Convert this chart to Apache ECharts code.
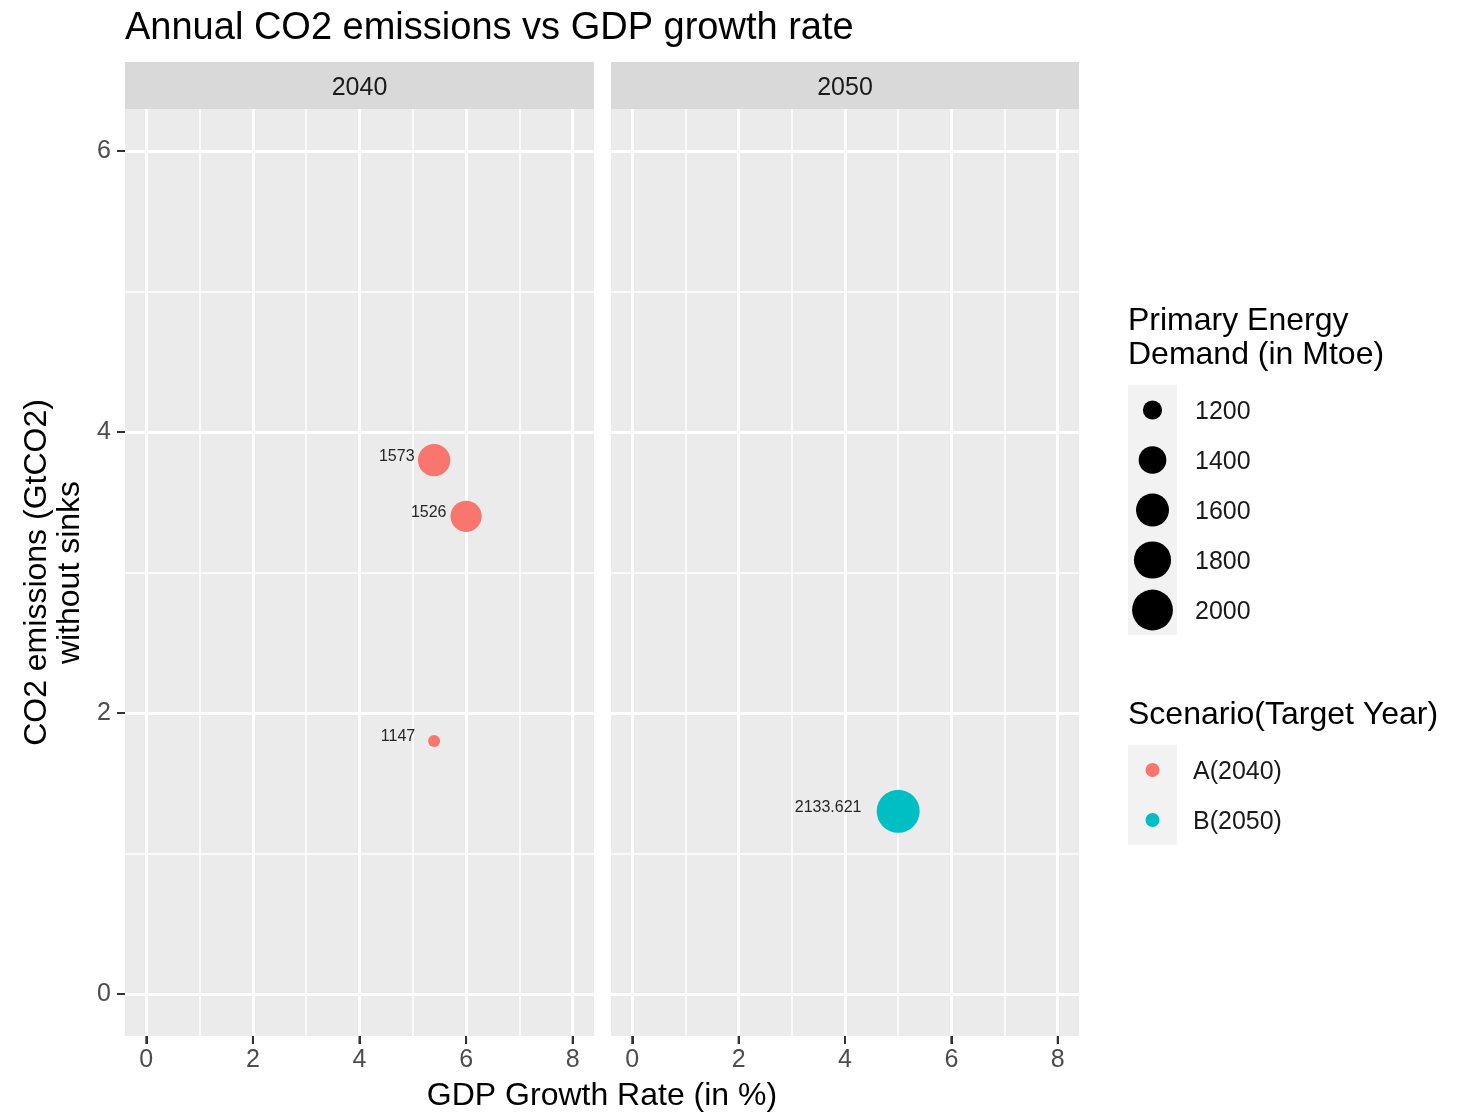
<!DOCTYPE html>
<html>
<head>
<meta charset="utf-8">
<script src="https://cdn.jsdelivr.net/npm/echarts@6/dist/echarts.min.js"></script>
<style>
  html, body { margin: 0; padding: 0; background: #ffffff; }
  #chart { width: 1473px; height: 1114px; }
</style>
</head>
<body>
<div id="chart"></div>
<script>
// ---- data ----
const facetYears = ['2040', '2050'];
const scenarioNames = ['A(2040)', 'B(2050)'];
const scenarioColors = ['#F8766D', '#00BFC4'];

// Scenario A, shown in the 2040 facet
const gdpA = [5.4, 6.0, 5.4];
const co2A = [3.8, 3.4, 1.8];
const energyA = [1573, 1526, 1147];

// Scenario B, shown in the 2050 facet
const gdpB = [5.0];
const co2B = [1.3];
const energyB = [2133.621];

const xTicks = [0, 2, 4, 6, 8];
const xMinor = [1, 3, 5, 7];
const yTicks = [0, 2, 4, 6];
const yMinor = [1, 3, 5];
const sizeBreaks = [1200, 1400, 1600, 1800, 2000];

// ---- layout / style ----
const FONT = '"Liberation Sans", Arial, Helvetica, sans-serif';
const panels = [{ left: 125, width: 469 }, { left: 611, width: 468 }];
const PANEL_TOP = 109, PANEL_H = 927;
const STRIP_TOP = 62, STRIP_H = 47;
const X_MIN = -0.4, X_MAX = 8.4, Y_MIN = -0.3, Y_MAX = 6.3;
const TICK_LEN = 8;

// area-style size scale over the energy range
const allEnergy = energyA.concat(energyB);
const eMin = Math.min(...allEnergy), eMax = Math.max(...allEnergy);
function sizeOf(v) {
  const t = Math.max(0, (v - eMin) / (eMax - eMin));
  return 12 + 31 * Math.sqrt(t);
}

function rows(xs, ys, es) {
  return xs.map((x, i) => [x, ys[i], es[i]]);
}

const grids = panels.map(p => ({
  left: p.left, top: PANEL_TOP, width: p.width, height: PANEL_H,
  show: true, backgroundColor: '#EBEBEB', borderWidth: 0, containLabel: false
}));

// per panel: a minor x axis (thin grid lines only) followed by the major one
// (labels, thick grid lines); y axes: major on the left, minor on the right
const xAxes = [], yAxes = [];
panels.forEach((p, i) => {
  xAxes.push({
    gridIndex: i, type: 'value', min: X_MIN, max: X_MAX, position: 'top',
    axisLine: { show: false, onZero: false },
    axisTick: { show: false, customValues: xMinor },
    axisLabel: { show: false, customValues: xMinor },
    splitLine: { show: true, lineStyle: { color: '#FFFFFF', width: 1.5 } }
  });
  xAxes.push({
    gridIndex: i, type: 'value', min: X_MIN, max: X_MAX, position: 'bottom',
    axisLine: { show: false, onZero: false },
    axisTick: { show: true, length: TICK_LEN, customValues: xTicks, lineStyle: { color: '#333333', width: 2 } },
    axisLabel: { show: true, customValues: xTicks, color: '#4D4D4D', fontSize: 25, fontFamily: FONT, margin: 12 },
    splitLine: { show: true, lineStyle: { color: '#FFFFFF', width: 3 } }
  });
  yAxes.push({
    gridIndex: i, type: 'value', min: Y_MIN, max: Y_MAX, position: 'left',
    axisLine: { show: false, onZero: false },
    axisTick: { show: i === 0, length: TICK_LEN, customValues: yTicks, lineStyle: { color: '#333333', width: 2 } },
    axisLabel: { show: i === 0, customValues: yTicks, color: '#4D4D4D', fontSize: 25, fontFamily: FONT, margin: 14 },
    splitLine: { show: true, lineStyle: { color: '#FFFFFF', width: 3 } }
  });
  yAxes.push({
    gridIndex: i, type: 'value', min: Y_MIN, max: Y_MAX, position: 'right',
    axisLine: { show: false, onZero: false },
    axisTick: { show: false, customValues: yMinor },
    axisLabel: { show: false, customValues: yMinor },
    splitLine: { show: true, lineStyle: { color: '#FFFFFF', width: 1.5 } }
  });
});

// value labels sit left of each point, pushed out by a share of their own width
const pointLabel = {
  show: true,
  position: 'inside',
  formatter: p => String(p.value[2]),
  color: '#262626',
  fontSize: 16,
  fontFamily: FONT
};
const pointLabelLayout = p => ({
  x: p.rect.x + p.rect.width / 2 - 0.55 * p.labelRect.width,
  y: p.rect.y + p.rect.height / 2 - 4,
  align: 'right',
  verticalAlign: 'middle'
});

const series = [
  {
    name: scenarioNames[0], type: 'scatter', xAxisIndex: 1, yAxisIndex: 0,
    data: rows(gdpA, co2A, energyA),
    symbol: 'circle', symbolSize: v => sizeOf(v[2]),
    itemStyle: { color: scenarioColors[0], opacity: 1 },
    label: pointLabel, labelLayout: pointLabelLayout, z: 5
  },
  {
    name: scenarioNames[1], type: 'scatter', xAxisIndex: 3, yAxisIndex: 2,
    data: rows(gdpB, co2B, energyB),
    symbol: 'circle', symbolSize: v => sizeOf(v[2]),
    itemStyle: { color: scenarioColors[1], opacity: 1 },
    label: pointLabel, labelLayout: pointLabelLayout, z: 5
  }
];

// x tick marks below each panel, placed through the panel's own scales
panels.forEach((p, i) => {
  series.push({
    type: 'custom', xAxisIndex: 2 * i + 1, yAxisIndex: 2 * i,
    data: xTicks.map(v => [v, Y_MIN]),
    silent: true, clip: false, z: 3,
    renderItem: (params, api) => {
      const pt = api.coord([api.value(0), api.value(1)]);
      return {
        type: 'line',
        shape: { x1: pt[0], y1: pt[1], x2: pt[0], y2: pt[1] + TICK_LEN },
        style: { stroke: '#333333', lineWidth: 2 }
      };
    }
  });
});

// ---- decorations: facet strips, axis titles, legends ----
const graphic = [];
panels.forEach((p, i) => {
  graphic.push({
    type: 'rect', shape: { x: p.left, y: STRIP_TOP, width: p.width, height: STRIP_H },
    style: { fill: '#D9D9D9' }, silent: true
  });
  graphic.push({
    type: 'text', x: p.left + p.width / 2, y: STRIP_TOP + STRIP_H / 2 + 3,
    style: { text: facetYears[i], fill: '#1A1A1A', font: '25px ' + FONT, textAlign: 'center', textVerticalAlign: 'middle' },
    silent: true
  });
});

graphic.push({
  type: 'text', x: (panels[0].left + panels[1].left + panels[1].width) / 2, y: 1096,
  style: { text: 'GDP Growth Rate (in %)', fill: '#000000', font: '32px ' + FONT, textAlign: 'center', textVerticalAlign: 'middle' },
  silent: true
});
graphic.push({
  type: 'text', x: 54, y: PANEL_TOP + PANEL_H / 2, rotation: Math.PI / 2,
  style: { text: 'CO2 emissions (GtCO2)\nwithout sinks', fill: '#000000', font: '32px ' + FONT,
           lineHeight: 33, textAlign: 'center', textVerticalAlign: 'middle' },
  silent: true
});

// size legend
const LEG_X = 1128, KEY_W = 49, KEY_H = 50;
graphic.push({
  type: 'text', x: LEG_X, y: 338,
  style: { text: 'Primary Energy\nDemand (in Mtoe)', fill: '#000000', font: '32px ' + FONT,
           lineHeight: 34, textAlign: 'left', textVerticalAlign: 'middle' },
  silent: true
});
const SIZE_KEY_TOP = 385;
graphic.push({
  type: 'rect', shape: { x: LEG_X, y: SIZE_KEY_TOP, width: KEY_W, height: KEY_H * sizeBreaks.length },
  style: { fill: '#F2F2F2' }, silent: true
});
sizeBreaks.forEach((v, i) => {
  const cy = SIZE_KEY_TOP + KEY_H * i + KEY_H / 2;
  graphic.push({
    type: 'circle', shape: { cx: LEG_X + KEY_W / 2, cy: cy, r: sizeOf(v) / 2 },
    style: { fill: '#000000' }, silent: true
  });
  graphic.push({
    type: 'text', x: 1195, y: cy + 2,
    style: { text: String(v), fill: '#1A1A1A', font: '25px ' + FONT, textAlign: 'left', textVerticalAlign: 'middle' },
    silent: true
  });
});

// colour legend
graphic.push({
  type: 'text', x: LEG_X, y: 715,
  style: { text: 'Scenario(Target Year)', fill: '#000000', font: '32px ' + FONT, textAlign: 'left', textVerticalAlign: 'middle' },
  silent: true
});
const COL_KEY_TOP = 745;
graphic.push({
  type: 'rect', shape: { x: LEG_X, y: COL_KEY_TOP, width: KEY_W, height: KEY_H * scenarioNames.length },
  style: { fill: '#F2F2F2' }, silent: true
});
scenarioNames.forEach((name, i) => {
  const cy = COL_KEY_TOP + KEY_H * i + KEY_H / 2;
  graphic.push({
    type: 'circle', shape: { cx: LEG_X + KEY_W / 2, cy: cy, r: 7 },
    style: { fill: scenarioColors[i] }, silent: true
  });
  graphic.push({
    type: 'text', x: 1193, y: cy + 2,
    style: { text: name, fill: '#1A1A1A', font: '25px ' + FONT, textAlign: 'left', textVerticalAlign: 'middle' },
    silent: true
  });
});

const chart = echarts.init(document.getElementById('chart'), null, { renderer: 'canvas' });
chart.setOption({
  animation: false,
  backgroundColor: '#FFFFFF',
  title: {
    text: 'Annual CO2 emissions vs GDP growth rate',
    left: 120, top: 5,
    textStyle: { fontSize: 38, fontWeight: 'normal', color: '#000000', fontFamily: FONT }
  },
  grid: grids,
  xAxis: xAxes,
  yAxis: yAxes,
  series: series,
  graphic: graphic
});
</script>
</body>
</html>
